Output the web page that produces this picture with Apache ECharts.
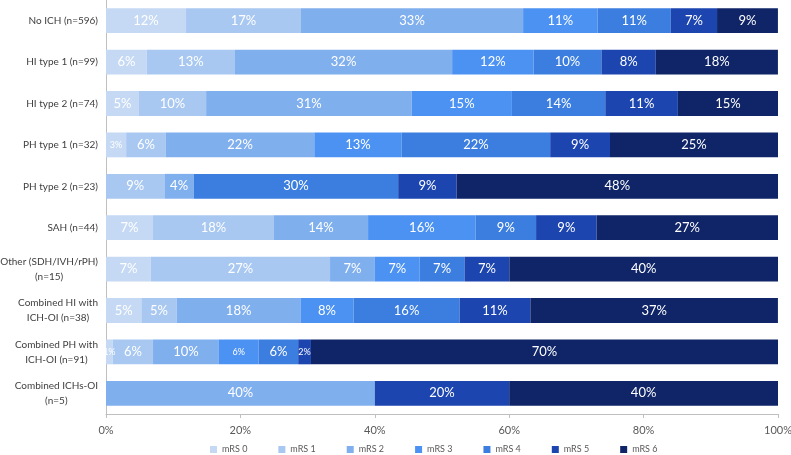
<!DOCTYPE html>
<html>
<head>
<meta charset="utf-8">
<script src="https://cdn.jsdelivr.net/npm/echarts@6/dist/echarts.min.js"></script>
<style>
html,body{margin:0;padding:0;background:#fff;}
#chart{width:791px;height:455px;}
</style>
</head>
<body>
<div id="chart"></div>
<script>
var categories = [
  'No ICH (n=596)',
  'HI type 1 (n=99)',
  'HI type 2 (n=74)',
  'PH type 1 (n=32)',
  'PH type 2 (n=23)',
  'SAH (n=44)',
  'Other (SDH/IVH/rPH)\n(n=15)',
  'Combined HI with\nICH-OI (n=38)',
  'Combined PH with\nICH-OI (n=91)',
  'Combined ICHs-OI\n(n=5)'
];
var seriesNames = ['mRS 0','mRS 1','mRS 2','mRS 3','mRS 4','mRS 5','mRS 6'];
var mRS0 = [11.91, 6.06, 4.9, 3.0, null, 7.0, 6.67, 5.26, 1.0, null];
var mRS1 = [17.11, 13.13, 10.0, 5.9, 8.7, 18.0, 26.67, 5.26, 6.0, null];
var mRS2 = [33.05, 32.32, 30.6, 22.1, 4.35, 14.0, 6.67, 18.42, 9.8, 40];
var mRS3 = [11.07, 12.12, 14.9, 13.0, null, 16.0, 6.67, 7.89, 5.9, null];
var mRS4 = [10.91, 10.10, 13.9, 22.1, 30.43, 9.0, 6.67, 15.79, 5.9, null];
var mRS5 = [6.88, 8.08, 10.8, 8.9, 8.7, 9.0, 6.67, 10.53, 1.9, 20];
var mRS6 = [9.06, 18.18, 14.9, 25.0, 47.83, 27.0, 40, 36.84, 69.5, 40];
var xTicks = [0, 20, 40, 60, 80, 100];

var values = [mRS0, mRS1, mRS2, mRS3, mRS4, mRS5, mRS6];
var colors = ['#C5D9F4','#A8C8F1','#80AFEE','#4B92F3','#3B7EDF','#1C45B0','#0F2567'];
// labels drawn smaller in the reference: [series index, category index]
var smallLabels = [[0,3],[0,8],[3,8],[5,8]];

function isSmall(s, c){
  for (var i=0;i<smallLabels.length;i++){ if(smallLabels[i][0]===s && smallLabels[i][1]===c) return true; }
  return false;
}

var FONT = 'Lato, "Open Sans", sans-serif';

var series = seriesNames.map(function(name, s){
  return {
    name: name,
    type: 'bar',
    stack: 'total',
    barCategoryGap: '40%',
    itemStyle: { color: colors[s] },
    label: {
      show: true,
      position: 'inside',
      color: '#ffffff',
      fontFamily: FONT,
      fontSize: 13,
      formatter: function(p){ return p.value == null ? '' : Math.round(p.value) + '%'; }
    },
    data: values[s].map(function(v, c){
      if (v == null) return null;
      if (isSmall(s, c)) return { value: v, label: { fontSize: 9 } };
      return v;
    })
  };
});

var chart = echarts.init(document.getElementById('chart'), null, {renderer:'canvas'});
chart.setOption({
  animation: false,
  backgroundColor: '#ffffff',
  grid: { left: 106, right: 13, top: 0, bottom: 41, containLabel: false, outerBoundsMode: 'none' },
  xAxis: {
    type: 'value',
    min: 0, max: 100, interval: 20,
    axisLine: { show: true, lineStyle: { color: '#BFBFBF', width: 1 } },
    axisTick: { show: true, length: 4, lineStyle: { color: '#BFBFBF' } },
    splitLine: { show: false },
    axisLabel: {
      margin: 11,
      color: '#595959',
      fontFamily: FONT,
      fontSize: 11,
      formatter: function(v){ return xTicks.indexOf(v) >= 0 ? v + '%' : ''; }
    }
  },
  yAxis: {
    type: 'category',
    inverse: true,
    data: categories,
    axisLine: { show: true, lineStyle: { color: '#BFBFBF', width: 1 } },
    axisTick: { show: false },
    axisLabel: {
      margin: 8,
      color: '#404040',
      fontFamily: FONT,
      fontSize: 10,
      lineHeight: 15,
      formatter: function(v){
        return v.split('\n').map(function(l){ return '{c|' + l + '}'; }).join('\n');
      },
      rich: { c: { align: 'center', color: '#404040', fontFamily: FONT, fontSize: 10, lineHeight: 15 } }
    }
  },
  legend: {
    top: 445,
    left: 210,
    padding: 0,
    itemWidth: 7,
    itemHeight: 7,
    itemGap: 31,
    icon: 'rect',
    textStyle: { color: '#595959', fontFamily: FONT, fontSize: 9 },
    data: seriesNames
  },
  series: series
});
</script>
</body>
</html>
